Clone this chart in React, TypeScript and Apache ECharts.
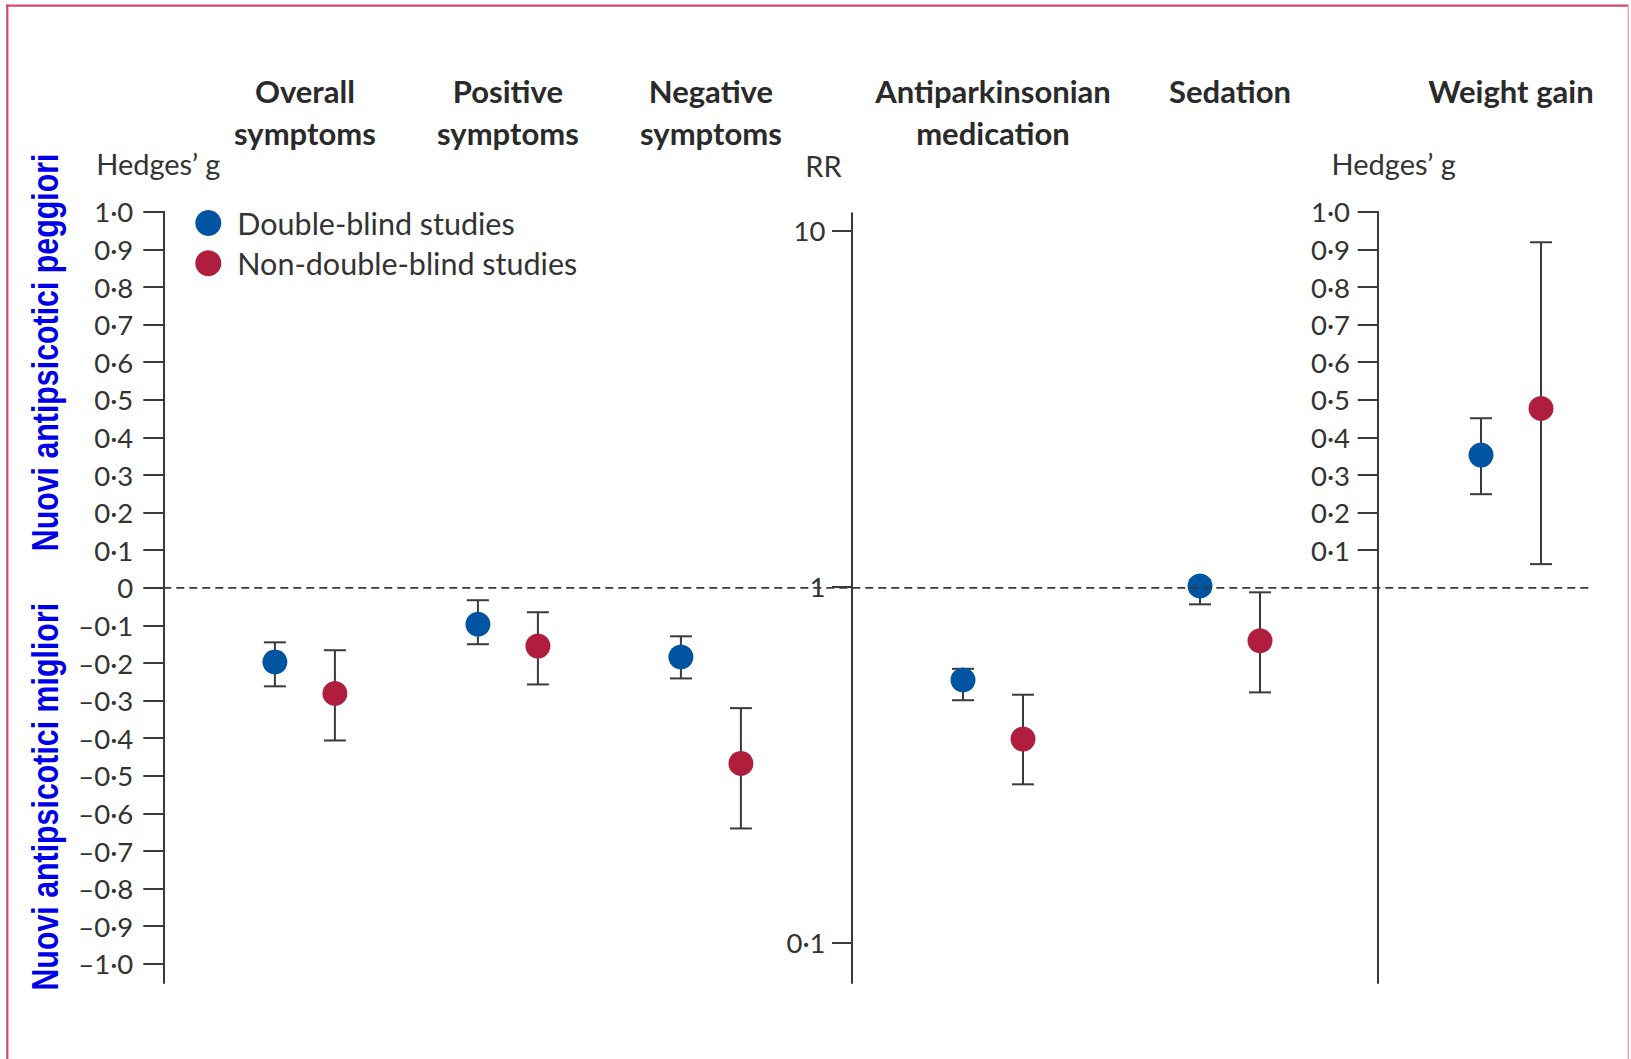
import React, { useEffect, useRef } from "react";
import * as echarts from "echarts";

// ---------- Data ----------
const seriesNames = ["Double-blind studies", "Non-double-blind studies"];
const seriesColors = ["#0055a2", "#af1e3c"];

// Panel 1: efficacy (Hedges' g)
const symptomCategories = ["Overall\nsymptoms", "Positive\nsymptoms", "Negative\nsymptoms"];
const symptomsDoubleBlindG = [-0.197, -0.097, -0.184];
const symptomsDoubleBlindLow = [-0.262, -0.15, -0.241];
const symptomsDoubleBlindHigh = [-0.145, -0.033, -0.129];
const symptomsOpenG = [-0.281, -0.155, -0.467];
const symptomsOpenLow = [-0.406, -0.257, -0.64];
const symptomsOpenHigh = [-0.166, -0.065, -0.32];

// Panel 2: risk ratios (log scale)
const rrCategories = ["Antiparkinsonian\nmedication", "Sedation\n "];
const rrDoubleBlind = [0.546, 1.003];
const rrDoubleBlindLow = [0.479, 0.891];
const rrDoubleBlindHigh = [0.587, 1.042];
const rrOpen = [0.3726, 0.704];
const rrOpenLow = [0.278, 0.504];
const rrOpenHigh = [0.4964, 0.963];

// Panel 3: weight gain (Hedges' g)
const weightCategories = ["Weight gain\n "];
const weightDoubleBlindG = [0.353];
const weightDoubleBlindLow = [0.249];
const weightDoubleBlindHigh = [0.451];
const weightOpenG = [0.477];
const weightOpenLow = [0.063];
const weightOpenHigh = [0.919];

// Tick labels
const hedgesTicks = [-1.0, -0.9, -0.8, -0.7, -0.6, -0.5, -0.4, -0.3, -0.2, -0.1, 0, 0.1, 0.2, 0.3, 0.4, 0.5, 0.6, 0.7, 0.8, 0.9, 1.0];
const weightTicks = [0.1, 0.2, 0.3, 0.4, 0.5, 0.6, 0.7, 0.8, 0.9, 1.0];
const referenceLine = [[0, 0], [1, 0]];

const upperNote = "Nuovi antipsicotici peggiori";
const lowerNote = "Nuovi antipsicotici migliori";

// ---------- Styles ----------
const FONT = "Lato";
const TEXT = "#333333";
const AXIS = "#3a3a3a";
const HMIN = -1.051;

const fmtHedges = (v: number) => {
  if (Math.abs(v) < 1e-9) return "0";
  const s = Math.abs(v).toFixed(1).replace(".", "·");
  return v < 0 ? "–" + s : s;
};
const fmtRR = (v: number) => (v < 1 ? v.toFixed(1).replace(".", "·") : String(Math.round(v)));

function errorSeries(
  name: string,
  color: string,
  axisIndex: number,
  mean: number[],
  low: number[],
  high: number[],
  dx: number
) {
  return {
    type: "custom",
    name,
    xAxisIndex: axisIndex,
    yAxisIndex: axisIndex,
    itemStyle: { color },
    encode: { x: 0, y: [1, 2, 3] },
    data: mean.map((m, i) => [i, m, low[i], high[i]]),
    renderItem: (_params: any, api: any) => {
      const i = api.value(0);
      const c = api.coord([i, api.value(1)]);
      const lo = api.coord([i, api.value(2)]);
      const hi = api.coord([i, api.value(3)]);
      const x = c[0] + dx;
      const st = { stroke: AXIS, lineWidth: 2 };
      return {
        type: "group",
        children: [
          { type: "line", shape: { x1: x, y1: lo[1], x2: x, y2: hi[1] }, style: st },
          { type: "line", shape: { x1: x - 11, y1: lo[1], x2: x + 11, y2: lo[1] }, style: st },
          { type: "line", shape: { x1: x - 11, y1: hi[1], x2: x + 11, y2: hi[1] }, style: st },
          { type: "circle", shape: { cx: x, cy: c[1], r: 12.5 }, style: { fill: color } },
        ],
      };
    },
  };
}

const titleLabel = (margin: number) => ({
  interval: 0,
  margin,
  fontFamily: FONT,
  fontWeight: "bold",
  fontSize: 31,
  lineHeight: 42,
  color: "#2a2a2a",
});

const tickLabel = (margin: number) => ({
  margin,
  fontFamily: FONT,
  fontSize: 27.5,
  color: TEXT,
});

const axisName = (padding: number[]) => ({
  fontFamily: FONT,
  fontSize: 29,
  color: TEXT,
  align: "center",
  verticalAlign: "bottom",
  padding,
});

export default function App() {
  const ref = useRef<HTMLDivElement>(null);

  useEffect(() => {
    if (!ref.current) return;
    const chart = echarts.init(ref.current, undefined, { renderer: "svg" });

    const option: any = {
      animation: false,
      backgroundColor: "#ffffff",
      textStyle: { fontFamily: FONT },
      grid: [
        { left: 203.4, width: 609, top: 211.8, height: 771.2 },
        { left: 874.5, width: 474, top: 230.7, height: 711.6 },
        { left: 1400, width: 222, top: 211.8, height: 771.2 },
        { left: 163.3, width: 1429.7, top: 211.8, height: 771.2 },
        { left: 851.5, width: 10, top: 213.3, height: 769.7 },
      ],
      xAxis: [
        { gridIndex: 0, type: "category", data: symptomCategories, position: "top", axisLine: { show: false }, axisTick: { show: false }, axisLabel: titleLabel(57.8) },
        { gridIndex: 1, type: "category", data: rrCategories, position: "top", axisLine: { show: false }, axisTick: { show: false }, axisLabel: titleLabel(76.7) },
        { gridIndex: 2, type: "category", data: weightCategories, position: "top", axisLine: { show: false }, axisTick: { show: false }, axisLabel: titleLabel(57.8) },
        { gridIndex: 3, type: "value", min: 0, max: 1, show: false },
        { gridIndex: 4, type: "value", min: 0, max: 1, show: false },
      ],
      yAxis: [
        {
          gridIndex: 0,
          type: "value",
          min: HMIN,
          max: 1,
          offset: 40.1,
          splitLine: { show: false },
          axisLine: { show: true, lineStyle: { color: AXIS, width: 2 } },
          axisTick: { show: true, inside: false, length: 20, customValues: hedgesTicks, lineStyle: { color: AXIS, width: 2 } },
          axisLabel: { ...tickLabel(30), customValues: hedgesTicks, formatter: fmtHedges },
          name: "Hedges’ g",
          nameLocation: "end",
          nameGap: 34,
          nameMoveOverlap: false,
          nameTextStyle: axisName([0, 10, 0, 0]),
        },
        {
          gridIndex: 1,
          type: "log",
          logBase: 10,
          min: 0.1,
          max: 10,
          offset: 23,
          splitLine: { show: false },
          axisLine: { show: false },
          axisTick: { show: true, inside: false, length: 19.5, lineStyle: { color: AXIS, width: 2 } },
          axisLabel: { ...tickLabel(26), formatter: fmtRR },
          name: "RR",
          nameLocation: "end",
          nameGap: 51,
          nameMoveOverlap: false,
          nameTextStyle: axisName([0, 56, 0, 0]),
        },
        {
          gridIndex: 2,
          type: "value",
          min: HMIN,
          max: 1,
          offset: 22.3,
          splitLine: { show: false },
          axisLine: { show: true, lineStyle: { color: AXIS, width: 2 } },
          axisTick: { show: true, inside: false, length: 20, customValues: weightTicks, lineStyle: { color: AXIS, width: 2 } },
          axisLabel: { ...tickLabel(27.7), customValues: weightTicks, formatter: fmtHedges },
          name: "Hedges’ g",
          nameLocation: "end",
          nameGap: 34,
          nameMoveOverlap: false,
          nameTextStyle: axisName([0, 0, 0, 32]),
        },
        { gridIndex: 3, type: "value", min: HMIN, max: 1, show: false },
        {
          gridIndex: 4,
          type: "value",
          min: 0,
          max: 1,
          splitLine: { show: false },
          axisLine: { show: true, lineStyle: { color: AXIS, width: 2 } },
          axisTick: { show: false },
          axisLabel: { show: false },
        },
      ],
      legend: {
        orient: "vertical",
        left: 195.3,
        top: 207.5,
        padding: 0,
        itemWidth: 26,
        itemHeight: 26,
        itemGap: 9.3,
        selectedMode: false,
        data: seriesNames.map((n) => ({ name: n, icon: "circle" })),
        textStyle: { fontFamily: FONT, fontSize: 30.5, color: TEXT, padding: [0, 0, 0, 11], lineHeight: 26 },
      },
      series: [
        {
          type: "line",
          name: "reference",
          xAxisIndex: 3,
          yAxisIndex: 3,
          data: referenceLine,
          symbol: "none",
          silent: true,
          lineStyle: { color: AXIS, width: 1.8, type: [8, 5] },
        },
        errorSeries(seriesNames[0], seriesColors[0], 0, symptomsDoubleBlindG, symptomsDoubleBlindLow, symptomsDoubleBlindHigh, -30),
        errorSeries(seriesNames[1], seriesColors[1], 0, symptomsOpenG, symptomsOpenLow, symptomsOpenHigh, 30),
        errorSeries(seriesNames[0], seriesColors[0], 1, rrDoubleBlind, rrDoubleBlindLow, rrDoubleBlindHigh, -30),
        errorSeries(seriesNames[1], seriesColors[1], 1, rrOpen, rrOpenLow, rrOpenHigh, 30),
        errorSeries(seriesNames[0], seriesColors[0], 2, weightDoubleBlindG, weightDoubleBlindLow, weightDoubleBlindHigh, -30),
        errorSeries(seriesNames[1], seriesColors[1], 2, weightOpenG, weightOpenLow, weightOpenHigh, 30),
      ],
      graphic: [
        { type: "line", shape: { x1: 6.3, y1: 5.7, x2: 1628.3, y2: 5.7 }, style: { stroke: "#cf4a73", lineWidth: 2.2 } },
        { type: "line", shape: { x1: 7.3, y1: 4.6, x2: 7.3, y2: 1059 }, style: { stroke: "#cf4a73", lineWidth: 2.2 } },
        { type: "line", shape: { x1: 1628.3, y1: 4.6, x2: 1628.3, y2: 1059 }, style: { stroke: "#eaa7bd", lineWidth: 1.5 } },
        {
          type: "text",
          x: 45.3,
          y: 352.4,
          rotation: Math.PI / 2,
          scaleX: 0.82,
          style: { text: upperNote, font: "bold 37px 'Liberation Sans', Arial, sans-serif", fill: "#0000e6", align: "center", verticalAlign: "middle" },
        },
        {
          type: "text",
          x: 45.3,
          y: 796.7,
          rotation: Math.PI / 2,
          scaleX: 0.82,
          style: { text: lowerNote, font: "bold 37px 'Liberation Sans', Arial, sans-serif", fill: "#0000e6", align: "center", verticalAlign: "middle" },
        },
      ],
    };

    chart.setOption(option);
    return () => chart.dispose();
  }, []);

  return <div ref={ref} style={{ position: "absolute", left: 0, top: 0, width: 1631, height: 1059 }} />;
}
